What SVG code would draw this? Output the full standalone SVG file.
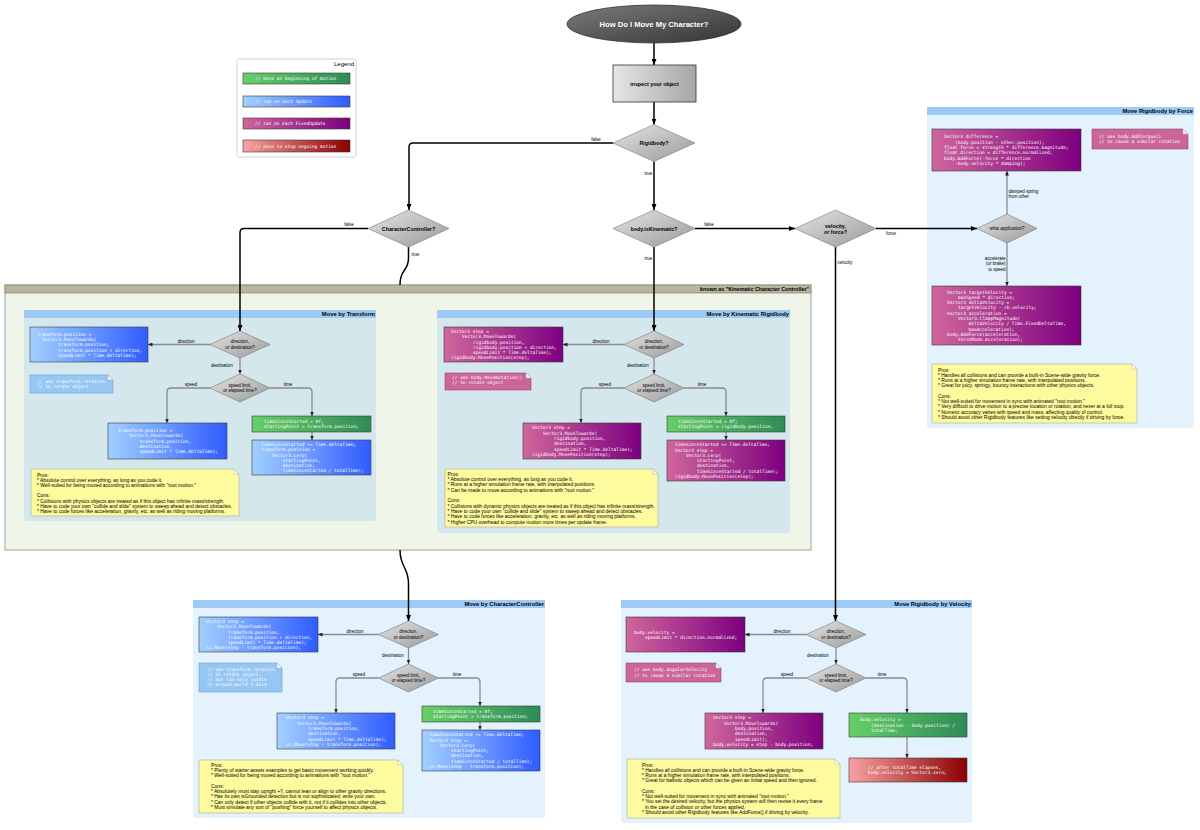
<svg xmlns="http://www.w3.org/2000/svg" width="1200" height="830" viewBox="0 0 1200 830">
<defs>
<linearGradient id="gGreen" x1="0" y1="0" x2="1" y2="0"><stop offset="0" stop-color="#68cf68"/><stop offset="1" stop-color="#2e8b57"/></linearGradient>
<linearGradient id="gBlue" x1="0" y1="0" x2="1" y2="0"><stop offset="0" stop-color="#a2d0ff"/><stop offset="1" stop-color="#2f5cff"/></linearGradient>
<linearGradient id="gPurple" x1="0" y1="0" x2="1" y2="0"><stop offset="0" stop-color="#d0669c"/><stop offset="1" stop-color="#7d0080"/></linearGradient>
<linearGradient id="gRed" x1="0" y1="0" x2="1" y2="0"><stop offset="0" stop-color="#f8a2a2"/><stop offset="1" stop-color="#8b0000"/></linearGradient>
<linearGradient id="gDia" x1="0" y1="0" x2="1" y2="1"><stop offset="0" stop-color="#e4e4e4"/><stop offset="1" stop-color="#9a9a9a"/></linearGradient>
<linearGradient id="gBox" x1="0" y1="0" x2="1" y2="0"><stop offset="0" stop-color="#e6e6e6"/><stop offset="1" stop-color="#a6a6a6"/></linearGradient>
<linearGradient id="gTitle" x1="0" y1="0" x2="1" y2="1"><stop offset="0" stop-color="#7c7c7c"/><stop offset="1" stop-color="#333333"/></linearGradient>
<marker id="ah" markerUnits="userSpaceOnUse" markerWidth="6" markerHeight="5" refX="6" refY="2.5" orient="auto"><path d="M0,0 L6,2.5 L0,5 Z" fill="#000"/></marker>
<marker id="ahg" markerUnits="userSpaceOnUse" markerWidth="4.5" markerHeight="4" refX="4.5" refY="2" orient="auto"><path d="M0,0 L4.5,2 L0,4 Z" fill="#222"/></marker>
</defs>
<style>
.c{font-family:"DejaVu Sans Mono","Liberation Mono",monospace;font-size:4.5px;fill:#fff}
.n{font-family:"Liberation Sans",Arial,sans-serif;font-size:4.95px;fill:#000}
.l{font-family:"Liberation Sans",Arial,sans-serif;font-size:4.5px;fill:#000}
.lc{font-family:"Liberation Sans",Arial,sans-serif;font-size:4.5px;fill:#000;text-anchor:middle}
.b{font-family:"Liberation Sans",Arial,sans-serif;font-size:5.3px;font-weight:bold;fill:#000;text-anchor:middle}
.pt{font-family:"Liberation Sans",Arial,sans-serif;font-size:5.8px;font-weight:bold;fill:#000;text-anchor:end}
.main{fill:none;stroke:#000;stroke-width:1.5;marker-end:url(#ah)}
.sub{fill:none;stroke:#8c8c8c;stroke-width:1.3;marker-end:url(#ahg)}
.dia{fill:url(#gDia);stroke:#777;stroke-width:0.6}
.cb{stroke:#3a3a3a;stroke-width:0.6}
.pros{fill:#fdfb9e;stroke:#aaa;stroke-width:0.6}
.nb{fill:#95c6f4;stroke:#6f9fcf;stroke-width:0.6}
.np{fill:#cc6699;stroke:#8f4f70;stroke-width:0.6}
.fold{fill:#fff;stroke:#aaa;stroke-width:0.5}
.pin{fill:#d4e7ed}
.pout{fill:#e3f2fc}
.ph{fill:#9ecbf5}
</style>
<rect width="1200" height="830" fill="#fff"/>

<!-- Kinematic group -->
<g id="kcc-group">
<rect x="5" y="285" width="806" height="265" fill="#f0f5ea" stroke="#8c8c80" stroke-width="0.8"/>
<rect x="5" y="285" width="806" height="8" fill="#b7b59c" stroke="#8c8c80" stroke-width="0.8"/>
<text x="809" y="291.3" class="pt" style="font-size:5.3px">known as "Kinematic Character Controller"</text>
</g>

<!-- Panels -->
<g id="panel-transform">
<rect x="24" y="310" width="352" height="211" rx="2" class="pin"/>
<rect x="24" y="310" width="352" height="8" class="ph"/>
<text x="375" y="316.3" class="pt">Move by Transform</text>
</g>
<g id="panel-kinematic">
<rect x="437" y="310" width="353" height="223" rx="2" class="pin"/>
<rect x="437" y="310" width="353" height="8" class="ph"/>
<text x="789" y="316.3" class="pt">Move by Kinematic Rigidbody</text>
</g>
<g id="panel-cc">
<rect x="193" y="600" width="352" height="218" rx="2" class="pout"/>
<rect x="193" y="600" width="352" height="8" class="ph"/>
<text x="544" y="606.3" class="pt">Move by CharacterController</text>
</g>
<g id="panel-velocity">
<rect x="621" y="600" width="351" height="223" rx="2" class="pout"/>
<rect x="621" y="600" width="351" height="8" class="ph"/>
<text x="971" y="606.3" class="pt">Move Rigidbody by Velocity</text>
</g>
<g id="panel-force">
<rect x="927" y="107" width="267" height="321" rx="2" class="pout"/>
<rect x="927" y="107" width="267" height="8" class="ph"/>
<text x="1193" y="113.3" class="pt">Move Rigidbody by Force</text>
</g>

<!-- Connectors -->
<g id="connectors">
<path class="main" d="M654,43 V65"/>
<path class="main" d="M654,102 V124.5"/>
<path class="main" d="M613,143 H413 Q409,143 409,147 V210"/>
<text x="596" y="141" class="lc">false</text>
<path class="main" d="M654,161.5 V210"/>
<text x="648.5" y="175" class="lc">true</text>
<path class="main" d="M368,228.5 H244 Q240,228.5 240,232.5 V331"/>
<text x="349" y="226" class="lc">false</text>
<path fill="none" stroke="#000" stroke-width="1.5" d="M408.5,247 V258 C408.5,272 400,268 400,285"/>
<text x="415.5" y="256" class="lc">true</text>
<path class="main" d="M400,550 C400,568 408.5,566 408.5,584 V621"/>
<path class="main" d="M695,228.5 H795"/>
<text x="709" y="226" class="lc">false</text>
<path class="main" d="M654,247 V331"/>
<text x="648.5" y="260" class="lc">true</text>
<path class="main" d="M876,228.5 H977"/>
<text x="891" y="235" class="lc">force</text>
<path class="main" d="M835.5,247 V621"/>
<text x="837.5" y="263.5" class="l">velocity</text>

<!-- transform panel edges -->
<path class="sub" d="M210,344.5 H148"/>
<text x="186" y="342.7" class="lc">direction</text>
<path class="sub" d="M240,358 V374"/>
<text x="222" y="366.8" class="lc">destination</text>
<path class="sub" d="M210,388 H171 Q167,388 167,392 V423"/>
<text x="191" y="385.7" class="lc">speed</text>
<path class="sub" d="M270,388 H308 Q312,388 312,392 V416"/>
<text x="288" y="385.7" class="lc">time</text>
<path class="sub" d="M312,432 V440"/>

<!-- kinematic panel edges -->
<path class="sub" d="M624,344.5 H563"/>
<text x="601" y="342.7" class="lc">direction</text>
<path class="sub" d="M654,358 V374"/>
<text x="638" y="366.8" class="lc">destination</text>
<path class="sub" d="M624,388 H585 Q581,388 581,392 V423"/>
<text x="605" y="385.7" class="lc">speed</text>
<path class="sub" d="M684,388 H722 Q726,388 726,392 V416"/>
<text x="702" y="385.7" class="lc">time</text>
<path class="sub" d="M726,432 V440"/>

<!-- cc panel edges -->
<path class="sub" d="M378.5,634.5 H318"/>
<text x="355" y="632.7" class="lc">direction</text>
<path class="sub" d="M408.5,648 V664"/>
<text x="393" y="656.8" class="lc">destination</text>
<path class="sub" d="M378.5,678 H340 Q336,678 336,682 V713"/>
<text x="359" y="675.7" class="lc">speed</text>
<path class="sub" d="M438.5,678 H476 Q480,678 480,682 V706"/>
<text x="457" y="675.7" class="lc">time</text>
<path class="sub" d="M480,722 V730"/>

<!-- velocity panel edges -->
<path class="sub" d="M806,634.5 H745"/>
<text x="782" y="632.7" class="lc">direction</text>
<path class="sub" d="M836,648 V664"/>
<text x="818" y="656.8" class="lc">destination</text>
<path class="sub" d="M806,678 H767 Q763,678 763,682 V713"/>
<text x="787" y="675.7" class="lc">speed</text>
<path class="sub" d="M866,678 H903 Q907,678 907,682 V713"/>
<text x="882" y="675.7" class="lc">time</text>
<path class="sub" d="M907,737 V758"/>

<!-- force panel edges -->
<path class="sub" d="M1007,214 V171"/>
<text class="l"><tspan x="1008.5" y="192.5">damped spring</tspan><tspan x="1008.5" y="198">from other</tspan></text>
<path class="sub" d="M1007,243 V286"/>
<text class="l" style="text-anchor:end"><tspan x="1005.5" y="259.5">accelerate</tspan><tspan x="1005.5" y="265">(or brake)</tspan><tspan x="1005.5" y="270.5">to speed</tspan></text>
</g>

<!-- Legend -->
<g id="legend">
<rect x="237" y="59" width="119" height="98" rx="2" fill="#fff" stroke="#c4c4d6" stroke-width="0.8"/>
<text x="354" y="65.5" class="l" style="text-anchor:end;font-size:6px">Legend</text>
<rect x="243" y="73" width="107" height="11" fill="url(#gGreen)" class="cb"/>
<text x="255" y="80.3" class="c">// once at beginning of motion</text>
<rect x="243" y="96" width="107" height="11" fill="url(#gBlue)" class="cb"/>
<text x="255" y="103.3" class="c">// run on each Update</text>
<rect x="243" y="118" width="107" height="11" fill="url(#gPurple)" class="cb"/>
<text x="255" y="125.3" class="c">// run on each FixedUpdate</text>
<rect x="243" y="140" width="107" height="12" fill="url(#gRed)" class="cb"/>
<text x="255" y="147.8" class="c">// once to stop ongoing motion</text>
</g>

<!-- Top nodes -->
<g id="title">
<ellipse cx="654" cy="24" rx="87" ry="19" fill="url(#gTitle)" stroke="#333" stroke-width="0.8"/>
<text x="654" y="26.8" class="b" style="fill:#fff;font-size:7.6px">How Do I Move My Character?</text>
</g>
<g id="inspect">
<rect x="613" y="65" width="83" height="37" fill="url(#gBox)" stroke="#333" stroke-width="0.8"/>
<text x="654.5" y="85.5" class="b">inspect your object</text>
</g>
<g id="d-rigidbody">
<polygon points="613,143 654,124.5 695,143 654,161.5" class="dia"/>
<text x="654" y="145" class="b">Rigidbody?</text>
</g>
<g id="d-cc">
<polygon points="368,228.5 408.5,210 449,228.5 408.5,247" class="dia"/>
<text x="408.5" y="230.5" class="b">CharacterController?</text>
</g>
<g id="d-kinematic">
<polygon points="613,228.5 654,210 695,228.5 654,247" class="dia"/>
<text x="654" y="230.5" class="b">body.isKinematic?</text>
</g>
<g id="d-velforce">
<polygon points="795,228.5 835.5,210 876,228.5 835.5,247" class="dia"/>
<text class="b"><tspan x="835.5" y="227.5">velocity,</tspan><tspan x="835.5" y="233.5">or force?</tspan></text>
</g>

<!-- Transform panel nodes -->
<g id="t-d1">
<polygon points="210,344.5 240,331 270,344.5 240,358" class="dia"/>
<text class="lc"><tspan x="240" y="343.2">direction,</tspan><tspan x="240" y="348.8">or destination?</tspan></text>
</g>
<g id="t-d2">
<polygon points="210,388 240,374 270,388 240,402" class="dia"/>
<text class="lc"><tspan x="240" y="386.6">speed limit,</tspan><tspan x="240" y="392.2">or elapsed time?</tspan></text>
</g>
<g id="t-dir">
<rect x="30" y="327" width="118" height="35" fill="url(#gBlue)" class="cb"/>
<text class="c"><tspan x="37" y="335.8">transform.position =</tspan><tspan x="42" y="341.1">Vector3.MoveTowards(</tspan><tspan x="58" y="346.4">transform.position,</tspan><tspan x="58" y="351.7">transform.position + direction,</tspan><tspan x="58" y="357">speedLimit * Time.deltaTime);</tspan></text>
</g>
<g id="t-note">
<path d="M30,375 H108 L113,380 V393 H30 Z" class="nb"/>
<path d="M108,375 V380 H113 Z" class="fold"/>
<text class="c"><tspan x="37" y="383.2">// use transform.rotation</tspan><tspan x="37" y="388.4">// to rotate object</tspan></text>
</g>
<g id="t-speed">
<rect x="108" y="423" width="119" height="36" fill="url(#gBlue)" class="cb"/>
<text class="c"><tspan x="118" y="432">transform.position =</tspan><tspan x="129" y="437.3">Vector3.MoveTowards(</tspan><tspan x="139.5" y="442.6">transform.position,</tspan><tspan x="139.5" y="447.9">destination,</tspan><tspan x="139.5" y="453.2">speedLimit * Time.deltaTime);</tspan></text>
</g>
<g id="t-start">
<rect x="252" y="416" width="119" height="16" fill="url(#gGreen)" class="cb"/>
<text class="c"><tspan x="264" y="422.9">timeSinceStarted = 0f;</tspan><tspan x="264" y="428.2">startingPoint = transform.position;</tspan></text>
</g>
<g id="t-lerp">
<rect x="252" y="440" width="119" height="35" fill="url(#gBlue)" class="cb"/>
<text class="c"><tspan x="261" y="445.9">timeSinceStarted += Time.deltaTime;</tspan><tspan x="261" y="451.2">transform.position =</tspan><tspan x="272" y="456.5">Vector3.Lerp(</tspan><tspan x="282.5" y="461.8">startingPoint,</tspan><tspan x="282.5" y="467.1">destination,</tspan><tspan x="282.5" y="472.4">timeSinceStarted / totalTime);</tspan></text>
</g>
<g id="t-pros">
<path d="M31,469 H234 L239,474 V516 H31 Z" class="pros"/>
<path d="M234,469 V474 H239 Z" class="fold"/>
<text class="n"><tspan x="37" y="476.6">Pros:</tspan><tspan x="37" y="481.8">* Absolute control over everything, as long as you code it.</tspan><tspan x="37" y="487">* Well-suited for being moved according to animations with "root motion."</tspan><tspan x="37" y="497.4">Cons:</tspan><tspan x="37" y="502.6">* Collisions with physics objects are treated as if this object has infinite mass/strength.</tspan><tspan x="37" y="507.8">* Have to code your own "collide and slide" system to sweep ahead and detect obstacles.</tspan><tspan x="37" y="513">* Have to code forces like acceleration, gravity, etc. as well as riding moving platforms.</tspan></text>
</g>

<!-- Kinematic panel nodes -->
<g id="k-d1">
<polygon points="624,344.5 654,331 684,344.5 654,358" class="dia"/>
<text class="lc"><tspan x="654" y="343.2">direction,</tspan><tspan x="654" y="348.8">or destination?</tspan></text>
</g>
<g id="k-d2">
<polygon points="624,388 654,374 684,388 654,402" class="dia"/>
<text class="lc"><tspan x="654" y="386.6">speed limit,</tspan><tspan x="654" y="392.2">or elapsed time?</tspan></text>
</g>
<g id="k-dir">
<rect x="444" y="327" width="119" height="35" fill="url(#gPurple)" class="cb"/>
<text class="c"><tspan x="451" y="332.9">Vector3 step =</tspan><tspan x="462" y="338.2">Vector3.MoveTowards(</tspan><tspan x="473" y="343.5">rigidbody.position,</tspan><tspan x="473" y="348.8">rigidbody.position + direction,</tspan><tspan x="473" y="354.1">speedLimit * Time.deltaTime);</tspan><tspan x="451" y="359.4">rigidbody.MovePosition(step);</tspan></text>
</g>
<g id="k-note">
<path d="M445,373 H526 L531,378 V390 H445 Z" class="np"/>
<path d="M526,373 V378 H531 Z" class="fold"/>
<text class="c"><tspan x="452" y="378.9">// use body.MoveRotation()</tspan><tspan x="452" y="384.2">// to rotate object</tspan></text>
</g>
<g id="k-speed">
<rect x="523" y="423" width="118" height="36" fill="url(#gPurple)" class="cb"/>
<text class="c"><tspan x="532" y="429.4">Vector3 step =</tspan><tspan x="543" y="434.7">Vector3.MoveTowards(</tspan><tspan x="554" y="440">rigidbody.position,</tspan><tspan x="554" y="445.3">destination,</tspan><tspan x="554" y="450.6">speedLimit * Time.deltaTime);</tspan><tspan x="532" y="455.9">rigidbody.MovePosition(step);</tspan></text>
</g>
<g id="k-start">
<rect x="667" y="416" width="118" height="16" fill="url(#gGreen)" class="cb"/>
<text class="c"><tspan x="678" y="422.9">timeSinceStarted = 0f;</tspan><tspan x="678" y="428.2">startingPoint = rigidbody.position;</tspan></text>
</g>
<g id="k-lerp">
<rect x="667" y="440" width="118" height="41" fill="url(#gPurple)" class="cb"/>
<text class="c"><tspan x="675" y="446.2">timeSinceStarted += Time.deltaTime;</tspan><tspan x="675" y="451.5">Vector3 step =</tspan><tspan x="686" y="456.8">Vector3.Lerp(</tspan><tspan x="697" y="462.1">startingPoint,</tspan><tspan x="697" y="467.4">destination,</tspan><tspan x="697" y="472.7">timeSinceStarted / totalTime);</tspan><tspan x="675" y="478">rigidbody.MovePosition(step);</tspan></text>
</g>
<g id="k-pros">
<path d="M445,469 H653 L658,474 V527 H445 Z" class="pros"/>
<path d="M653,469 V474 H658 Z" class="fold"/>
<text class="n"><tspan x="447.5" y="475.8">Pros:</tspan><tspan x="447.5" y="481.1">* Absolute control over everything, as long as you code it.</tspan><tspan x="447.5" y="486.4">* Runs at a higher simulation frame rate, with interpolated positions.</tspan><tspan x="447.5" y="491.7">* Can be made to move according to animations with "root motion."</tspan><tspan x="447.5" y="502.3">Cons:</tspan><tspan x="447.5" y="507.6">* Collisions with dynamic physics objects are treated as if this object has infinite mass/strength.</tspan><tspan x="447.5" y="512.9">* Have to code your own "collide and slide" system to sweep ahead and detect obstacles.</tspan><tspan x="447.5" y="518.2">* Have to code forces like acceleration, gravity, etc. as well as riding moving platforms.</tspan><tspan x="447.5" y="523.5">* Higher CPU overhead to compute motion more times per update frame.</tspan></text>
</g>

<!-- CharacterController panel nodes -->
<g id="c-d1">
<polygon points="378.5,634.5 408.5,621 438.5,634.5 408.5,648" class="dia"/>
<text class="lc"><tspan x="408.5" y="633.2">direction,</tspan><tspan x="408.5" y="638.8">or destination?</tspan></text>
</g>
<g id="c-d2">
<polygon points="378.5,678 408.5,664 438.5,678 408.5,692" class="dia"/>
<text class="lc"><tspan x="408.5" y="676.6">speed limit,</tspan><tspan x="408.5" y="682.2">or elapsed time?</tspan></text>
</g>
<g id="c-dir">
<rect x="199" y="617" width="119" height="35" fill="url(#gBlue)" class="cb"/>
<text class="c"><tspan x="206" y="622.9">Vector3 step =</tspan><tspan x="217" y="628.2">Vector3.MoveTowards(</tspan><tspan x="228" y="633.5">transform.position,</tspan><tspan x="228" y="638.8">transform.position + direction,</tspan><tspan x="228" y="644.1">speedLimit * Time.deltaTime);</tspan><tspan x="206" y="649.4">cc.Move(step - transform.position);</tspan></text>
</g>
<g id="c-note">
<path d="M199,663 H277 L282,668 V692 H199 Z" class="nb"/>
<path d="M277,663 V668 H282 Z" class="fold"/>
<text class="c"><tspan x="207" y="670.5">// use transform.rotation</tspan><tspan x="207" y="675.8">// to rotate object,</tspan><tspan x="207" y="681.1">// but can only rotate</tspan><tspan x="207" y="686.4">// around world Y axis</tspan></text>
</g>
<g id="c-speed">
<rect x="277" y="713" width="118" height="36" fill="url(#gBlue)" class="cb"/>
<text class="c"><tspan x="286" y="719.4">Vector3 step =</tspan><tspan x="297" y="724.7">Vector3.MoveTowards(</tspan><tspan x="308" y="730">transform.position,</tspan><tspan x="308" y="735.3">destination,</tspan><tspan x="308" y="740.6">speedLimit * Time.deltaTime);</tspan><tspan x="286" y="745.9">cc.Move(step - transform.position);</tspan></text>
</g>
<g id="c-start">
<rect x="422" y="706" width="118" height="16" fill="url(#gGreen)" class="cb"/>
<text class="c"><tspan x="433" y="712.9">timeSinceStarted = 0f;</tspan><tspan x="433" y="718.2">startingPoint = transform.position;</tspan></text>
</g>
<g id="c-lerp">
<rect x="422" y="730" width="118" height="41" fill="url(#gBlue)" class="cb"/>
<text class="c"><tspan x="429" y="736.2">timeSinceStarted += Time.deltaTime;</tspan><tspan x="429" y="741.5">Vector3 step =</tspan><tspan x="440" y="746.8">Vector3.Lerp(</tspan><tspan x="451" y="752.1">startingPoint,</tspan><tspan x="451" y="757.4">destination,</tspan><tspan x="451" y="762.7">timeSinceStarted / totalTime);</tspan><tspan x="429" y="768">cc.Move(step - transform.position);</tspan></text>
</g>
<g id="c-pros">
<path d="M199,760 H398 L403,765 V813 H199 Z" class="pros"/>
<path d="M398,760 V765 H403 Z" class="fold"/>
<text class="n"><tspan x="211" y="766.8">Pros:</tspan><tspan x="211" y="772">* Plenty of starter assets examples to get basic movement working quickly.</tspan><tspan x="211" y="777.3">* Well-suited for being moved according to animations with "root motion."</tspan><tspan x="211" y="787.8">Cons:</tspan><tspan x="211" y="793">* Absolutely must stay upright +Y, cannot lean or align to other gravity directions.</tspan><tspan x="211" y="798.3">* Has its own isGrounded detection but is not sophisticated; write your own.</tspan><tspan x="211" y="803.5">* Can only detect if other objects collide with it, not if it collides into other objects.</tspan><tspan x="211" y="808.8">* Must simulate any sort of "pushing" force yourself to affect physics objects.</tspan></text>
</g>

<!-- Velocity panel nodes -->
<g id="v-d1">
<polygon points="806,634.5 836,621 866,634.5 836,648" class="dia"/>
<text class="lc"><tspan x="836" y="633.2">direction,</tspan><tspan x="836" y="638.8">or destination?</tspan></text>
</g>
<g id="v-d2">
<polygon points="806,678 836,664 866,678 836,692" class="dia"/>
<text class="lc"><tspan x="836" y="676.6">speed limit,</tspan><tspan x="836" y="682.2">or elapsed time?</tspan></text>
</g>
<g id="v-dir">
<rect x="626" y="617" width="119" height="35" fill="url(#gPurple)" class="cb"/>
<text class="c"><tspan x="634" y="633.5">body.velocity =</tspan><tspan x="645" y="638.8">speedLimit * direction.normalized;</tspan></text>
</g>
<g id="v-note">
<path d="M626,663 H716 L721,668 V682 H626 Z" class="np"/>
<path d="M716,663 V668 H721 Z" class="fold"/>
<text class="c"><tspan x="634" y="671.2">// use body.angularVelocity</tspan><tspan x="634" y="676.5">// to cause a similar rotation</tspan></text>
</g>
<g id="v-speed">
<rect x="705" y="713" width="118" height="36" fill="url(#gPurple)" class="cb"/>
<text class="c"><tspan x="713" y="719.4">Vector3 step =</tspan><tspan x="724" y="724.7">Vector3.MoveTowards(</tspan><tspan x="735" y="730">body.position,</tspan><tspan x="735" y="735.3">destination,</tspan><tspan x="735" y="740.6">speedLimit);</tspan><tspan x="713" y="745.9">body.velocity = step - body.position;</tspan></text>
</g>
<g id="v-time">
<rect x="849" y="713" width="118" height="24" fill="url(#gGreen)" class="cb"/>
<text class="c"><tspan x="860" y="721.3">body.velocity =</tspan><tspan x="871" y="726.6">(destination - body.position) /</tspan><tspan x="871" y="731.9">totalTime;</tspan></text>
</g>
<g id="v-stop">
<rect x="849" y="758" width="118" height="24" fill="url(#gRed)" class="cb"/>
<text class="c"><tspan x="868" y="769">// after totalTime elapses,</tspan><tspan x="868" y="774.3">body.velocity = Vector3.zero;</tspan></text>
</g>
<g id="v-pros">
<path d="M627,759 H835 L840,764 V818 H627 Z" class="pros"/>
<path d="M835,759 V764 H840 Z" class="fold"/>
<text class="n"><tspan x="642" y="766.5">Pros:</tspan><tspan x="642" y="771.8">* Handles all collisions and can provide a built-in Scene-wide gravity force.</tspan><tspan x="642" y="777">* Runs at a higher simulation frame rate, with interpolated positions.</tspan><tspan x="642" y="782.3">* Great for ballistic objects which can be given an initial speed and then ignored.</tspan><tspan x="642" y="792.8">Cons:</tspan><tspan x="642" y="798">* Not well-suited for movement in sync with animated "root motion."</tspan><tspan x="642" y="803.3">* You set the desired velocity, but the physics system will then revise it every frame</tspan><tspan x="645" y="808.5">in the case of collision or other forces applied.</tspan><tspan x="642" y="813.8">* Should avoid other Rigidbody features like AddForce() if driving by velocity.</tspan></text>
</g>

<!-- Force panel nodes -->
<g id="f-spring">
<rect x="932" y="129" width="149" height="42" fill="url(#gPurple)" class="cb"/>
<text class="c"><tspan x="944" y="138.4">Vector3 difference =</tspan><tspan x="955" y="143.7">(body.position - other.position);</tspan><tspan x="944" y="149">float force = strength * difference.magnitude;</tspan><tspan x="944" y="154.3">float direction = difference.normalized;</tspan><tspan x="944" y="159.6">body.AddForce(-force * direction</tspan><tspan x="955" y="164.9">-body.velocity * damping);</tspan></text>
</g>
<g id="f-note">
<path d="M1092,129 H1183 L1188,134 V149 H1092 Z" class="np"/>
<path d="M1183,129 V134 H1188 Z" class="fold"/>
<text class="c"><tspan x="1099" y="138">// use body.AddTorque()</tspan><tspan x="1099" y="143.3">// to cause a similar rotation</tspan></text>
</g>
<g id="f-d">
<polygon points="977,228.5 1007,214 1037,228.5 1007,243" class="dia"/>
<text x="1007" y="230" class="lc">what application?</text>
</g>
<g id="f-accel">
<rect x="932" y="286" width="149" height="59" fill="url(#gPurple)" class="cb"/>
<text class="c"><tspan x="947" y="293.5">Vector3 targetVelocity =</tspan><tspan x="958" y="298.8">maxSpeed * direction;</tspan><tspan x="947" y="304.1">Vector3 deltaVelocity =</tspan><tspan x="958" y="309.4">targetVelocity - rb.velocity;</tspan><tspan x="947" y="314.7">Vector3 acceleration =</tspan><tspan x="958" y="320">Vector3.ClampMagnitude(</tspan><tspan x="968.5" y="325.3">deltaVelocity / Time.FixedDeltaTime,</tspan><tspan x="968.5" y="330.6">maxAcceleration);</tspan><tspan x="947" y="335.9">body.AddForce(acceleration,</tspan><tspan x="958" y="341.2">ForceMode.Acceleration);</tspan></text>
</g>
<g id="f-pros">
<path d="M932,364 H1132 L1137,369 V423 H932 Z" class="pros"/>
<path d="M1132,364 V369 H1137 Z" class="fold"/>
<text class="n"><tspan x="938" y="371.5">Pros:</tspan><tspan x="938" y="376.8">* Handles all collisions and can provide a built-in Scene-wide gravity force.</tspan><tspan x="938" y="382">* Runs at a higher simulation frame rate, with interpolated positions.</tspan><tspan x="938" y="387.3">* Great for juicy, springy, bouncy interactions with other physics objects.</tspan><tspan x="938" y="397.8">Cons:</tspan><tspan x="938" y="403">* Not well-suited for movement in sync with animated "root motion."</tspan><tspan x="938" y="408.3">* Very difficult to drive motion to a precise location or rotation, and never at a full stop.</tspan><tspan x="938" y="413.5">* Numeric accuracy varies with speed and mass, affecting quality of control.</tspan><tspan x="938" y="418.8">* Should avoid other Rigidbody features like setting velocity directly if driving by force.</tspan></text>
</g>
</svg>
